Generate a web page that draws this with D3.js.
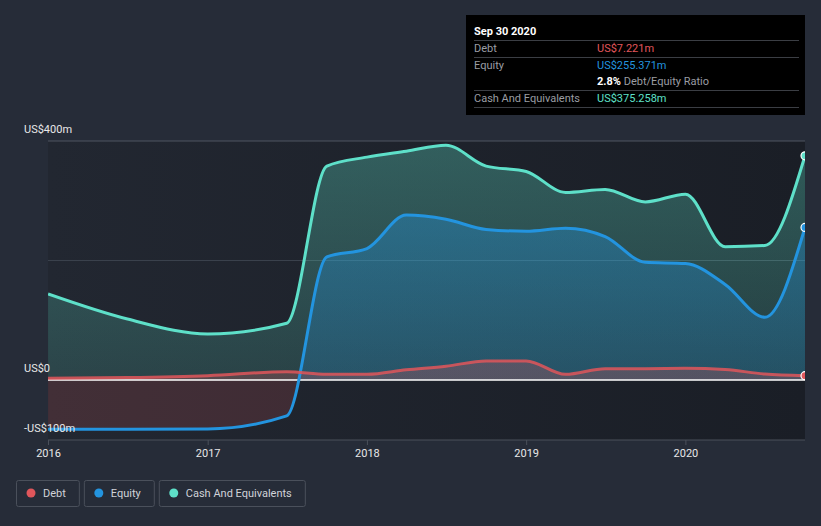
<!DOCTYPE html>
<html><head><meta charset="utf-8">
<script src="https://cdn.jsdelivr.net/npm/d3@7/dist/d3.min.js"></script>
<style>
html,body{margin:0;padding:0;background:#262c38;}
svg{display:block;font-family:Roboto,"Noto Sans",sans-serif;}
</style></head><body>
<svg id="c" width="821" height="526"></svg>
<script>
const dates = ["2015-12-31","2016-06-30","2016-12-31","2017-06-30","2017-09-30","2017-12-31","2018-03-31","2018-06-30","2018-09-30","2018-12-31","2019-03-31","2019-06-30","2019-09-30","2019-12-31","2020-03-31","2020-06-30","2020-09-30"];
const debt   = [2.8, 4, 7.2, 14, 9.5, 9.5, 17, 23, 32, 32, 9.5, 19, 19, 19.5, 17.5, 10, 7.221];
const equity = [-82.5, -82.5, -82, -60, 206, 220, 276, 269, 252, 249, 254, 240, 197, 195, 160, 105, 255.371];
const cash   = [144, 102, 77, 95, 358, 373, 383, 393, 358, 349, 314, 319, 298, 311, 223, 225, 375.258];
const yTicks = [-100, 0, 400];
const yTickLabels = ["-US$100m", "US$0", "US$400m"];
const xTickYears = [2016, 2017, 2018, 2019, 2020];
const legendItems = ["Debt", "Equity", "Cash And Equivalents"];
const tooltipTitle = "Sep 30 2020";
const tooltipRows = [
  {label:"Debt", value:"US$7.221m"},
  {label:"Equity", value:"US$255.371m"},
  {label:"", value:"2.8%", extra:" Debt/Equity Ratio"},
  {label:"Cash And Equivalents", value:"US$375.258m"}
];
const colors = {debt:"#e0565b", equity:"#2394df", cash:"#5ee0c9"};

const parse = d3.timeParse("%Y-%m-%d");
const T = dates.map(parse);
const svg = d3.select("#c");
const L = 48, R = 805, TOP = 141, BOT = 440;
const x = d3.scaleTime().domain([parse("2016-01-01"), parse("2020-09-30")]).range([48.5, 805]);
const y = d3.scaleLinear().domain([-100, 400]).range([439.75, 141]);

const defs = svg.append("defs");
const bg = defs.append("linearGradient").attr("id","bg").attr("x1","0").attr("x2","1").attr("y1","0").attr("y2","0");
bg.append("stop").attr("offset","0").attr("stop-color","#222731");
bg.append("stop").attr("offset","1").attr("stop-color","#1a1e26");
function vgrad(id, col, o1, o2){
  const g = defs.append("linearGradient").attr("id",id).attr("gradientUnits","userSpaceOnUse")
    .attr("x1",0).attr("x2",0).attr("y1",y(400)).attr("y2",y(0));
  g.append("stop").attr("offset","0").attr("stop-color",col).attr("stop-opacity",o1);
  g.append("stop").attr("offset","1").attr("stop-color",col).attr("stop-opacity",o2);
}
vgrad("gc", colors.cash, 0.32, 0.16);
vgrad("ge", colors.equity, 0.42, 0.22);
vgrad("gd", colors.debt, 0.35, 0.25);
defs.append("clipPath").attr("id","plot").append("rect").attr("x",L).attr("y",0).attr("width",R-L).attr("height",BOT);
defs.append("clipPath").attr("id","pos").append("rect").attr("x",L).attr("y",0).attr("width",R-L).attr("height",y(0));
defs.append("clipPath").attr("id","neg").append("rect").attr("x",L).attr("y",y(0)).attr("width",R-L).attr("height",BOT-y(0));

svg.append("rect").attr("x",L).attr("y",TOP).attr("width",R-L).attr("height",BOT-TOP).attr("fill","url(#bg)");

// gridlines
svg.append("line").attr("x1",L).attr("x2",R).attr("y1",y(400)).attr("y2",y(400)).attr("stroke","#4f5561").attr("stroke-width",1);
svg.append("line").attr("x1",L).attr("x2",R).attr("y1",y(200)).attr("y2",y(200)).attr("stroke","#3a414c").attr("stroke-width",1);
svg.append("line").attr("x1",L).attr("x2",R).attr("y1",BOT).attr("y2",BOT).attr("stroke","#4a505b").attr("stroke-width",1);

const g = svg.append("g").attr("clip-path","url(#plot)");
const curve = d3.curveMonotoneX;
function area(vals){ return d3.area().curve(curve).x((d,i)=>x(T[i])).y0(y(0)).y1(d=>y(d))(vals); }
function line(vals){ return d3.line().curve(curve).x((d,i)=>x(T[i])).y(d=>y(d))(vals); }

g.append("path").attr("d",area(cash)).attr("fill","url(#gc)");
g.append("g").attr("clip-path","url(#pos)").append("path").attr("d",area(equity)).attr("fill","url(#ge)");
g.append("g").attr("clip-path","url(#neg)").append("path").attr("d",area(equity)).attr("fill","#e0565b").attr("fill-opacity",0.17);
g.append("path").attr("d",area(debt)).attr("fill","url(#gd)");

// zero line
g.append("line").attr("x1",L).attr("x2",R).attr("y1",y(0)).attr("y2",y(0)).attr("stroke","#ffffff").attr("stroke-width",1.3);

g.append("path").attr("d",line(cash)).attr("fill","none").attr("stroke",colors.cash).attr("stroke-width",3);
g.append("path").attr("d",line(equity)).attr("fill","none").attr("stroke",colors.equity).attr("stroke-width",3);
g.append("path").attr("d",line(debt)).attr("fill","none").attr("stroke",colors.debt).attr("stroke-width",3).attr("stroke-opacity",0.85);

const last = T.length-1;
[[cash,colors.cash],[equity,colors.equity],[debt,colors.debt]].forEach(([v,c])=>{
  g.append("circle").attr("cx",x(T[last])).attr("cy",y(v[last])).attr("r",4).attr("fill",c).attr("stroke","#ffffff").attr("stroke-width",1.2);
});

// y labels
yTicks.forEach((t,i)=>{
  svg.append("text").attr("x",24).attr("y",y(t)-8).attr("fill","#e8e8e8").attr("font-size",11).text(yTickLabels[i]);
});
// x axis
xTickYears.forEach(yr=>{
  const xx = x(new Date(yr,0,1));
  svg.append("line").attr("x1",xx).attr("x2",xx).attr("y1",BOT).attr("y2",BOT+5).attr("stroke","#4a505b");
  svg.append("text").attr("x",xx).attr("y",457).attr("text-anchor","middle").attr("fill","#e8e8e8").attr("font-size",11).text(yr);
});

// legend
const legCols = [colors.debt, colors.equity, colors.cash];
let lx = 16;
legendItems.forEach((name,i)=>{
  const gg = svg.append("g");
  const t = gg.append("text").attr("x",lx+27).attr("y",497).attr("fill","#d0d3d8").attr("font-size",11).text(name);
  const w = t.node().getComputedTextLength();
  gg.insert("rect","text").attr("x",lx+0.5).attr("y",480.5).attr("width",w+40).attr("height",26).attr("rx",2)
    .attr("fill","none").attr("stroke","#4a505b");
  gg.append("circle").attr("cx",lx+15).attr("cy",493).attr("r",4.5).attr("fill",legCols[i]);
  lx += w + 45;
});

// tooltip
const tb = svg.append("g");
tb.append("rect").attr("x",466).attr("y",15).attr("width",339).attr("height",100).attr("fill","#000000");
tb.append("text").attr("x",474).attr("y",35).attr("fill","#ffffff").attr("font-size",11).attr("font-weight","bold").text(tooltipTitle);
const sepY = [40.5, 57.5, 90.5, 107.5];
sepY.forEach(s=>tb.append("line").attr("x1",474).attr("x2",799).attr("y1",s).attr("y2",s).attr("stroke","#3b3e44"));
const rowY = [51.5, 68.5, 85, 102];
const valCols = [colors.debt, colors.equity, "#ffffff", colors.cash];
tooltipRows.forEach((r,i)=>{
  tb.append("text").attr("x",474).attr("y",rowY[i]).attr("fill","#9a9da3").attr("font-size",11).text(r.label);
  const t = tb.append("text").attr("x",597).attr("y",rowY[i]).attr("font-size",11);
  t.append("tspan").attr("fill",valCols[i]).attr("font-weight", i===2?"bold":"normal").text(r.value);
  if(r.extra) t.append("tspan").attr("fill","#9a9da3").text(r.extra);
});
</script></body></html>
